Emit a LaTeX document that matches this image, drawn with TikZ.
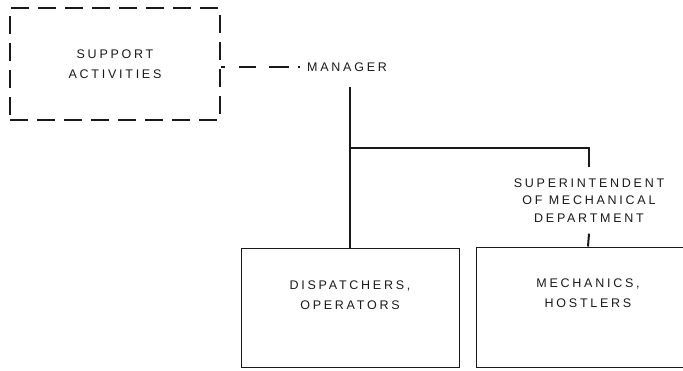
\documentclass[tikz,border=0pt]{standalone}
\usepackage{fontspec}
\setmainfont{Liberation Sans}[LetterSpace=22]
\definecolor{ink}{rgb}{0.1,0.1,0.1}
\begin{document}
\begin{tikzpicture}[x=1pt,y=-1pt,
  every node/.style={text=ink,font=\fontsize{12.5}{20}\selectfont},
  orgbox/.style={draw=ink,line width=1pt,rectangle,inner sep=0pt,align=center},
  dashbox/.style={draw=ink,line width=1.8pt,dash pattern=on 18pt off 9pt,rectangle,inner sep=0pt,align=center},
  link/.style={draw=ink,line width=2pt},
  dashlink/.style={draw=ink,line width=1.6pt,dash pattern=on 4pt off 14pt on 17pt off 13pt on 20pt off 9pt on 3pt off 20pt},
  plain/.style={inner sep=0pt,align=center}]
\useasboundingbox (0,0) rectangle (683,370);
\clip (0,0) rectangle (683,370);
\node[dashbox,minimum width=210pt,minimum height=112pt] (support) at (115,64) {SUPPORT\\ACTIVITIES};
\node[plain,anchor=west,inner xsep=7pt,inner ysep=15pt] (manager) at (300,67) {MANAGER};
\node[orgbox,minimum width=218pt,minimum height=119pt] (disp) at (350,307.5) {DISPATCHERS,\\OPERATORS\\[4pt]};
\node[orgbox,minimum width=224pt,minimum height=120pt] (mech) at (588,307) {MECHANICS,\\HOSTLERS\\[8pt]};
\node[plain,minimum height=66pt,font=\fontsize{12.5}{17.5}\selectfont] (super) at (589,200.5) {SUPERINTENDENT\\OF MECHANICAL\\DEPARTMENT};
\draw[dashlink] (support.east |- manager.west) -- (manager.west);
\draw[link] (manager.south -| disp.north) -- (disp.north);
\draw[link] (disp.north |- 0,147.5) -| (super.north);
\draw[link] (super.south) -- (mech.north);
\end{tikzpicture}
\end{document}
